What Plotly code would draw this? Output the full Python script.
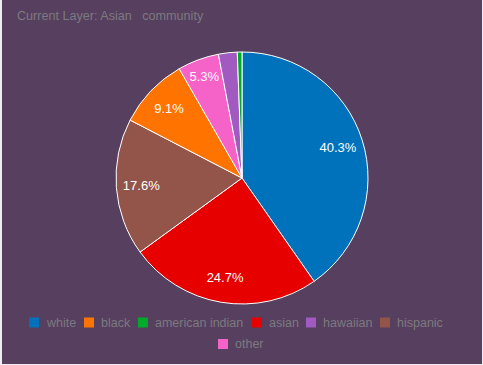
import plotly.graph_objects as go

categories = ["white", "black", "american indian", "asian", "hawaiian", "hispanic", "other"]
values = [40.3, 9.1, 0.6, 24.7, 2.4, 17.6, 5.3]
slice_labels = ["40.3%", "9.1%", "", "24.7%", "", "17.6%", "5.3%"]
colors = ["#0072bb", "#ff7300", "#00aa2b", "#e60000", "#a05ac0", "#93554a", "#f562c8"]

BG = "#573f5f"
GRAY = "#7c7a80"
FONT = "Liberation Sans, Arial, Helvetica, sans-serif"
W, H = 480, 364

# legend layout (pixel positions of each legend square's left edge, and row centre)
legend_left = [27, 82, 136, 250, 304, 378, 216]
legend_row_y = [322.5, 344]
legend_row = [0, 0, 0, 0, 0, 0, 1]
SQ = 10

pie_domain = dict(x=[0.1, 0.9], y=[1 - 304 / H, 1 - 52 / H])

fig = go.Figure()
fig.add_trace(go.Pie(
    labels=categories,
    values=values,
    textinfo="none",
    marker=dict(colors=colors, line=dict(color="white", width=1)),
    sort=True,
    direction="clockwise",
    rotation=0,
    hoverinfo="skip",
    showlegend=False,
    domain=pie_domain,
))
# transparent ring carrying the slice labels (places text near 0.8 of radius)
fig.add_trace(go.Pie(
    labels=categories,
    values=values,
    text=slice_labels,
    textinfo="text",
    textposition="inside",
    insidetextorientation="horizontal",
    textfont=dict(color="white", size=13, family=FONT),
    marker=dict(colors=["rgba(0,0,0,0)"] * len(categories), line=dict(width=0)),
    hole=0.6,
    sort=True,
    direction="clockwise",
    rotation=0,
    hoverinfo="skip",
    showlegend=False,
    domain=pie_domain,
))

shapes = []
annotations = []
for name, col, left, row in zip(categories, colors, legend_left, legend_row):
    yc = legend_row_y[row]
    shapes.append(dict(type="rect", xref="paper", yref="paper",
                       x0=left / W, x1=(left + SQ) / W,
                       y0=1 - (yc + SQ / 2) / H, y1=1 - (yc - SQ / 2) / H,
                       fillcolor=col, line=dict(width=0)))
    annotations.append(dict(text=name, xref="paper", yref="paper",
                            x=(left + SQ + 5) / W, y=1 - yc / H,
                            xanchor="left", yanchor="middle", showarrow=False,
                            font=dict(size=12.5, color=GRAY, family=FONT)))

fig.update_layout(
    width=W, height=H,
    autosize=False,
    paper_bgcolor=BG,
    plot_bgcolor=BG,
    margin=dict(l=0, r=0, t=0, b=0),
    font=dict(family=FONT, color=GRAY, size=12.5),
    title=dict(text="Current Layer: Asian&nbsp;&nbsp; community", x=15 / W, xanchor="left",
               y=1 - 16 / H, yanchor="middle", font=dict(size=12.6, color=GRAY, family=FONT)),
    shapes=shapes,
    annotations=annotations,
    showlegend=False,
)

fig.write_html("out.html", config={"displayModeBar": False},
               post_script="document.body.style.margin='0 0 0 2px';"
                           "document.body.style.background='#eeeef2';"
                           "document.body.style.overflow='hidden';")
